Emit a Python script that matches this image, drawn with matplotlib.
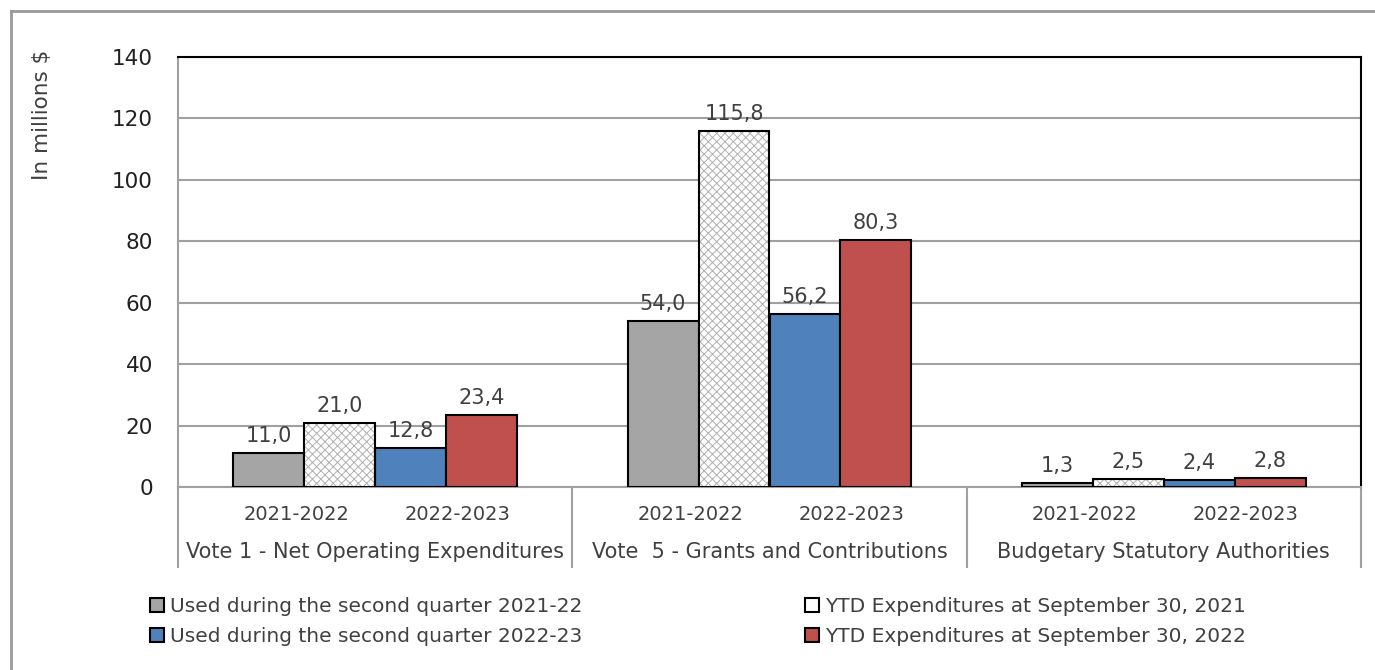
import matplotlib.pyplot as plt
import matplotlib.transforms as mtransforms
from matplotlib.patches import Rectangle
from matplotlib.lines import Line2D

groups = ['Vote 1 - Net Operating Expenditures',
          'Vote  5 - Grants and Contributions',
          'Budgetary Statutory Authorities']
years = ['2021-2022', '2022-2023']
series = ['Used during the second quarter 2021-22',
          'YTD Expenditures at September 30, 2021',
          'Used during the second quarter 2022-23',
          'YTD Expenditures at September 30, 2022']
used_2122 = [11.0, 54.0, 1.3]
ytd_2021 = [21.0, 115.8, 2.5]
used_2223 = [12.8, 56.2, 2.4]
ytd_2022 = [23.4, 80.3, 2.8]

txt = '#404040'
plt.rcParams['font.family'] = 'DejaVu Sans'
plt.rcParams['hatch.linewidth'] = 0.7

fig = plt.figure(figsize=(13.75, 6.7), dpi=100)
ax = fig.add_axes([178 / 1375, 1 - 487 / 670, 1183 / 1375, 430 / 670])

w = 0.18
offs = [-1.5 * w, -0.5 * w, 0.5 * w, 1.5 * w]
centers = [g + 0.5 for g in range(len(groups))]
data = [used_2122, ytd_2021, used_2223, ytd_2022]
faces = ['#A5A5A5', 'white', '#4F81BD', '#C0504D']

for k, vals in enumerate(data):
    xs = [c + offs[k] for c in centers]
    if k == 1:
        ax.bar(xs, vals, w, color='white', edgecolor='#B0B0B0', hatch='xxxx',
               linewidth=0, zorder=3)
        ax.bar(xs, vals, w, fill=False, edgecolor='black', linewidth=1.5, zorder=4)
    else:
        ax.bar(xs, vals, w, color=faces[k], edgecolor='black', linewidth=1.5, zorder=3)
    for x, v in zip(xs, vals):
        ax.annotate(f'{v:.1f}'.replace('.', ','), (x, v), xytext=(0, 5),
                    textcoords='offset points', ha='center', va='bottom',
                    fontsize=15, color=txt)

ax.set_xlim(0, 3)
ax.set_ylim(0, 140)
ax.set_yticks(range(0, 141, 20))
ax.set_xticks([])
ax.tick_params(axis='y', length=0, pad=18, labelsize=15.5, labelcolor='#202020')
ax.grid(axis='y', color='#A0A0A0', linewidth=1.5, zorder=0)
ax.set_axisbelow(True)
for s in ['top', 'right']:
    ax.spines[s].set_color('black')
    ax.spines[s].set_linewidth(1.5)
for s in ['left', 'bottom']:
    ax.spines[s].set_color('#A0A0A0')
    ax.spines[s].set_linewidth(1.5)

# two-level category axis
trans = mtransforms.blended_transform_factory(ax.transData, ax.transAxes)
for g, c in enumerate(centers):
    for y, dx in zip(years, [-0.2, 0.208]):
        ax.text(c + dx, -0.063, y, transform=trans, ha='center', va='center',
                fontsize=14, color=txt, clip_on=False)
    ax.text(c, -0.151, groups[g], transform=trans, ha='center', va='center',
            fontsize=15, color=txt, clip_on=False)
for xd in range(len(groups) + 1):
    ax.add_line(Line2D([xd, xd], [0, -0.186], transform=trans, color='#A0A0A0',
                       linewidth=1.5, clip_on=False))

fig.text(42 / 1375, 1 - 115 / 670, 'In millions $', rotation=90, ha='center',
         va='center', fontsize=15.5, color=txt)

# legend
hs = []
for k in range(4):
    if k == 1:
        hs.append(Rectangle((0, 0), 1, 1, facecolor='white', edgecolor='black',
                            linewidth=1.5))
    else:
        hs.append(Rectangle((0, 0), 1, 1, facecolor=faces[k], edgecolor='black',
                            linewidth=1.5))
order = [0, 2, 1, 3]
leg = fig.legend([hs[i] for i in order], [series[i] for i in order], ncol=2,
                 loc='upper left', bbox_to_anchor=(150 / 1375, 1 - 597 / 670),
                 frameon=False, fontsize=14.5, handlelength=0.7, handleheight=0.7,
                 handletextpad=0.3, columnspacing=11.05, labelspacing=0.55,
                 borderpad=0, borderaxespad=0)
for t in leg.get_texts():
    t.set_color(txt)

# outer border
fig.add_artist(Line2D([11 / 1375, 11 / 1375], [0, 1 - 11 / 670], transform=fig.transFigure,
                      color='#999999', linewidth=2))
fig.add_artist(Line2D([11 / 1375, 1], [1 - 11 / 670, 1 - 11 / 670], transform=fig.transFigure,
                      color='#999999', linewidth=2))

fig.savefig('out.png', dpi=100)
